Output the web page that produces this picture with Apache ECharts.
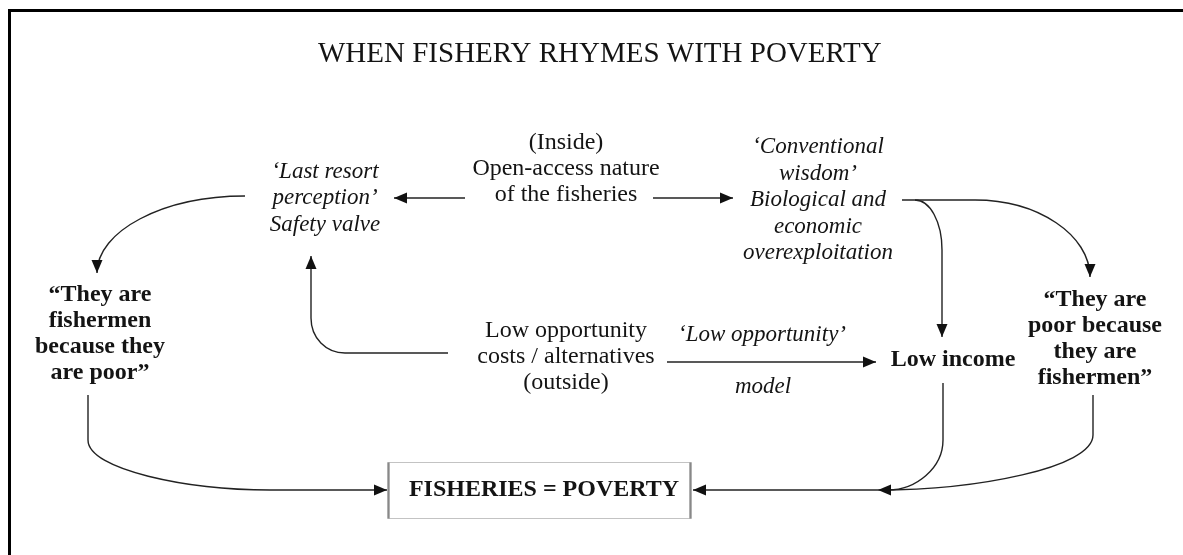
<!DOCTYPE html>
<html>
<head>
<meta charset="utf-8">
<title>When fishery rhymes with poverty</title>
<script src="https://cdn.jsdelivr.net/npm/echarts@6/dist/echarts.min.js"></script>
<style>
  html, body { margin: 0; padding: 0; background: #fff; }
  #main { width: 1183px; height: 555px; }
</style>
</head>
<body>
<div id="main"></div>
<script>
// node texts, by type face
var plainNodes = ['(Inside)\nOpen-access nature\nof the fisheries', 'Low opportunity\ncosts / alternatives\n(outside)'];
var italicNodes = ['\u2018Last resort\nperception\u2019\nSafety valve',
                   '\u2018Conventional\nwisdom\u2019\nBiological and\neconomic\noverexploitation',
                   '\u2018Low opportunity\u2019', 'model'];
var boldNodes = ['\u201CThey are\nfishermen\nbecause they\nare poor\u201D', 'Low income',
                 '\u201CThey are\npoor because\nthey are\nfishermen\u201D', 'FISHERIES = POVERTY'];

// where each node sits in the diagram (diagram units = pixels of the figure)
var plainPos = [[566, 169], [566, 357]];
var italicPos = [[325, 198], [818, 200], [762, 335], [763, 387]];
var boldPos = [[100, 334], [953, 360], [1095, 339], [544, 490]];
var boxPos = [[539.5, 490.5]];

// connectors: start, control 1, control 2, end, arrow head (1) or not (0)
var links = [
  [465, 198, 465, 198, 465, 198, 394, 198, 1],
  [653, 198, 653, 198, 653, 198, 733, 198, 1],
  [667, 362, 667, 362, 667, 362, 876, 362, 1],
  [245, 196, 163, 196, 97, 231, 97, 273, 1],
  [448, 353, 448, 353, 448, 353, 345, 353, 0],
  [345, 353, 326, 353, 311, 338, 311, 318, 0],
  [311, 318, 311, 318, 311, 318, 311, 256, 1],
  [902, 200, 902, 200, 902, 200, 975, 200, 0],
  [975, 200, 1038, 200, 1090, 235, 1090, 277, 1],
  [915, 200, 930, 200, 942, 222, 942, 250, 0],
  [942, 250, 942, 250, 942, 250, 942, 337, 1],
  [943, 383, 943, 383, 943, 383, 943, 440, 0],
  [943, 440, 943, 468, 916, 490, 888, 490, 0],
  [1093, 395, 1093, 395, 1093, 395, 1093, 435, 0],
  [1093, 435, 1093, 468, 976, 490, 878, 490, 1],
  [878, 490, 878, 490, 878, 490, 693, 490, 1],
  [88, 395, 88, 395, 88, 395, 88, 440, 0],
  [88, 440, 88, 470, 188, 490, 270, 490, 0],
  [270, 490, 270, 490, 270, 490, 387, 490, 1]
];

var serif = '"Liberation Serif", "Times New Roman", serif';
var ink = '#141414';

function nodeData(pos, names) {
  return pos.map(function (p, i) { return { value: p, name: names[i] }; });
}

function textSeries(pos, names, style) {
  return {
    type: 'scatter',
    silent: true,
    symbolSize: 1,
    itemStyle: { color: 'rgba(255,255,255,0)', opacity: 1 },
    data: nodeData(pos, names),
    label: Object.assign({
      show: true,
      position: 'inside',
      formatter: '{b}',
      fontFamily: serif,
      color: ink,
      opacity: 1,
      textBorderWidth: 0,
      align: 'center',
      verticalAlign: 'middle'
    }, style)
  };
}

function renderLink(params, api) {
  var p1 = api.coord([api.value(0), api.value(1)]);
  var c1 = api.coord([api.value(2), api.value(3)]);
  var c2 = api.coord([api.value(4), api.value(5)]);
  var p2 = api.coord([api.value(6), api.value(7)]);
  var children = [{
    type: 'bezierCurve',
    shape: { x1: p1[0], y1: p1[1], cpx1: c1[0], cpy1: c1[1], cpx2: c2[0], cpy2: c2[1], x2: p2[0], y2: p2[1] },
    style: { stroke: '#222', lineWidth: 1.4, fill: null }
  }];
  if (api.value(8)) {
    var dx = p2[0] - c2[0], dy = p2[1] - c2[1];
    var len = Math.sqrt(dx * dx + dy * dy);
    var ux = dx / len, uy = dy / len;
    var bx = p2[0] - ux * 13, by = p2[1] - uy * 13;
    children.push({
      type: 'polygon',
      shape: { points: [[p2[0], p2[1]], [bx - uy * 5.5, by + ux * 5.5], [bx + uy * 5.5, by - ux * 5.5]] },
      style: { fill: '#111' }
    });
  }
  return { type: 'group', children: children };
}

var myChart = echarts.init(document.getElementById('main'));
myChart.setOption({
  animation: false,
  backgroundColor: '#fff',
  title: {
    text: 'WHEN FISHERY RHYMES WITH POVERTY',
    left: 318,
    top: 40,
    padding: 0,
    textStyle: { fontFamily: serif, fontSize: 29, fontWeight: 'normal', color: ink, lineHeight: 29 }
  },
  grid: { left: 0, right: 0, top: 0, bottom: 0 },
  xAxis: { type: 'value', min: 0, max: 1183, show: false },
  yAxis: { type: 'value', min: 0, max: 555, inverse: true, show: false },
  graphic: [{
    type: 'rect',
    shape: { x: 9.5, y: 10.5, width: 1400, height: 800 },
    style: { fill: null, stroke: '#000', lineWidth: 3 },
    silent: true
  }],
  series: [
    {
      type: 'scatter',
      silent: true,
      symbol: 'rect',
      symbolSize: [302, 56],
      itemStyle: { color: '#fff', borderColor: '#888', borderWidth: 1, opacity: 1 },
      data: boxPos
    },
    {
      type: 'custom',
      silent: true,
      renderItem: renderLink,
      data: links
    },
    textSeries(plainPos, plainNodes, { fontSize: 24, lineHeight: 26 }),
    textSeries(italicPos, italicNodes, { fontSize: 23, lineHeight: 26.5, fontStyle: 'italic' }),
    textSeries(boldPos, boldNodes, { fontSize: 24, lineHeight: 26, fontWeight: 'bold' })
  ]
});
</script>
</body>
</html>
